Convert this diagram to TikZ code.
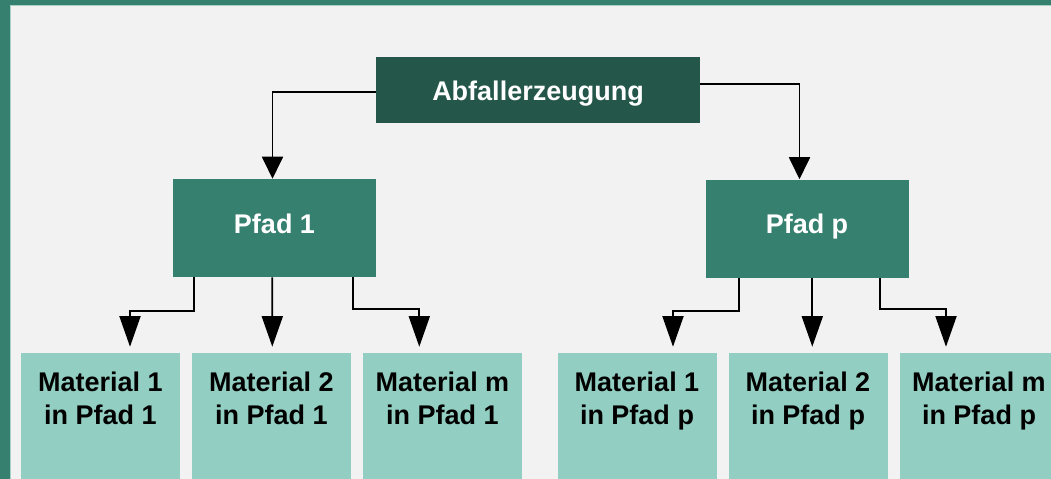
\documentclass[tikz,border=0pt]{standalone}
\usepackage{fontspec}
\setmainfont{Liberation Sans}
\usetikzlibrary{arrows.meta,calc}
\definecolor{frame}{HTML}{36806F}
\definecolor{frameedge}{HTML}{A9D0C5}
\definecolor{canvas}{HTML}{F2F2F2}
\definecolor{rootfill}{HTML}{24574A}
\definecolor{pathfill}{HTML}{36806F}
\definecolor{matfill}{HTML}{92CFC2}

\begin{document}
\begin{tikzpicture}[x=0.75pt,y=-0.75pt,
  lbl/.style={font=\fontsize{20.25}{24.6}\selectfont\bfseries},
  rootbox/.style={lbl, fill=rootfill, text=white, minimum width=243pt,
    minimum height=49.5pt, inner sep=0pt, text height=15pt, text depth=0pt},
  pathbox/.style={lbl, fill=pathfill, text=white, minimum width=152.25pt,
    minimum height=73.5pt, inner sep=0pt, text height=15pt, text depth=7.5pt},
  matbox/.style={fill=matfill, minimum width=119.25pt, minimum height=94.5pt,
    inner sep=0pt},
  mattext/.style={lbl, anchor=north, align=center, inner sep=0pt,
    yshift=-14.25pt, text=black},
  link/.style={line width=1.4pt, black},
  arrU/.style={link, -{Triangle[width=15.75pt,length=16.5pt]}},
  arrL/.style={link, -{Triangle[width=15.75pt,length=23pt]}},
]
\useasboundingbox (0,0) rectangle (1051,479);

% canvas and frame
\fill[canvas] (0,0) rectangle (1051,479);
\fill[frame] (0,0) rectangle (1051,5);
\fill[frame] (0,0) rectangle (10,479);
\draw[frameedge, line width=0.75pt] (10.5,479) -- (10.5,5.5) -- (1051,5.5);

% root and paths
\node[rootbox] (root) at (538,90) {Abfallerzeugung};
\node[pathbox] (p1) at (274.5,228) {Pfad 1};
\node[pathbox] (pp) at (807,228.5) {Pfad p};

% materials of path 1
\node[matbox, label={[mattext]north:{Material 1\\in Pfad 1}}] (m11) at (100.5,416) {};
\node[matbox, label={[mattext]north:{Material 2\\in Pfad 1}}] (m21) at (271.5,416) {};
\node[matbox, label={[mattext]north:{Material m\\in Pfad 1}}] (mm1) at (442.5,416) {};

% materials of path p
\node[matbox, label={[mattext]north:{Material 1\\in Pfad p}}] (m1p) at (637,416) {};
\node[matbox, label={[mattext]north:{Material 2\\in Pfad p}}] (m2p) at (808,416) {};
\node[matbox, label={[mattext]north:{Material m\\in Pfad p}}] (mmp) at (979,416) {};

% root to paths
\draw[arrU] ($(root.west)+(0,2)$) -| ($(p1.north)+(-2,0)$);
\draw[arrU] ($(root.east)+(0,-6)$) -| ($(pp.north)+(-7.5,0)$);

% path 1 to its materials
\draw[arrL] ($(p1.south)+(-80.2,0)$) |- ($(m11.north)+(29.5,-42)$) -- ($(m11.north)+(29.5,-6)$);
\draw[arrL] ($(p1.south)+(-2.2,0)$) -- ($(m21.north)+(0.8,-6)$);
\draw[arrL] ($(p1.south)+(78.8,0)$) |- ($(mm1.north)+(-23.2,-44)$) -- ($(mm1.north)+(-23.2,-6)$);

% path p to its materials
\draw[arrL] ($(pp.south)+(-68,0)$) |- ($(m1p.north)+(36,-42)$) -- ($(m1p.north)+(36,-6)$);
\draw[arrL] ($(pp.south)+(5.3,0)$) -- ($(m2p.north)+(4.3,-6)$);
\draw[arrL] ($(pp.south)+(73,0)$) |- ($(mmp.north)+(-33,-44)$) -- ($(mmp.north)+(-33,-6)$);
\end{tikzpicture}
\end{document}
